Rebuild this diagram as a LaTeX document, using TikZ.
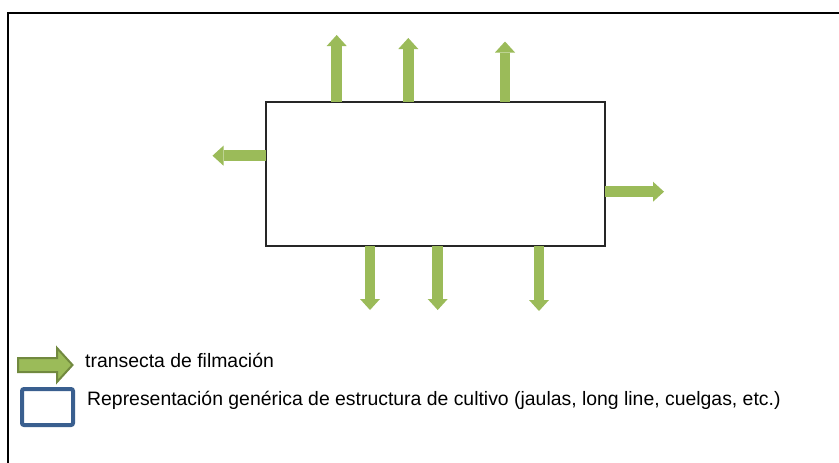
\documentclass[tikz,border=0pt]{standalone}
\usepackage{fontspec}
\setmainfont{Liberation Sans}
\usetikzlibrary{arrows.meta,calc}
\definecolor{tgreen}{HTML}{9BBB59}
\definecolor{tgreendark}{HTML}{71893F}
\definecolor{tblue}{HTML}{3A5F8F}
\tikzset{
  transecta/.style={draw=tgreen, line width=10.5pt,
    -{Triangle[width=20pt,length=11pt,line width=0pt]}},
  structbox/.style={draw=black!85, line width=1.5pt, fill=white, inner sep=0pt,
    minimum width=339pt, minimum height=144pt, outer sep=0pt},
  legtext/.style={anchor=base west, inner sep=0pt, font=\fontsize{19.4}{23}\selectfont},
  legbox/.style={draw=tblue, line width=4pt, rounded corners=2pt, inner sep=0pt,
    minimum width=51pt, minimum height=36pt}
}
\begin{document}
\begin{tikzpicture}[x=1pt,y=-1pt]
\useasboundingbox (0,0) rectangle (839,463);
\clip (0,0) rectangle (839,463);
\draw[line width=1.5pt, black] (8,13) rectangle (900,520);
\node[structbox] (box) at (435.5,174) {};
% free ends
\coordinate (t1) at (336.7,35);
\coordinate (t2) at (408.3,38);
\coordinate (t3) at (505,41.5);
\coordinate (b1) at (370,310);
\coordinate (b2) at (437.7,310);
\coordinate (b3) at (539,311);
\coordinate (l1) at (212.5,155.7);
\coordinate (r1) at (664,191.7);
\draw[transecta] (box.north -| t1) -- (t1);
\draw[transecta] (box.north -| t2) -- (t2);
\draw[transecta] (box.north -| t3) -- (t3);
\draw[transecta] (box.south -| b1) -- (b1);
\draw[transecta] (box.south -| b2) -- (b2);
\draw[transecta] (box.south -| b3) -- (b3);
\draw[transecta] (box.west |- l1) -- (l1);
\draw[transecta] (box.east |- r1) -- (r1);
% legend
\draw[fill=tgreen, draw=tgreendark, line width=2pt, line join=miter]
  (18,358) -- (57,358) -- (57,348) -- (72.5,365) -- (57,382) -- (57,372) -- (18,372) -- cycle;
\node[legbox] (lbox) at (47.5,407) {};
\node[legtext] (lt1) at (85,367) {transecta de filmación};
\node[legtext] (lt2) at (87,405) {Representación genérica de estructura de cultivo (jaulas, long line, cuelgas, etc.)};
\end{tikzpicture}
\end{document}
